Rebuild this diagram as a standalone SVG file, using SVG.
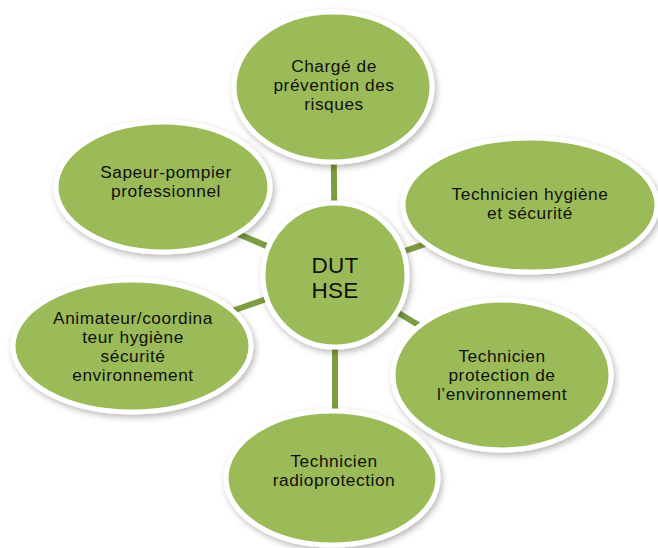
<svg xmlns="http://www.w3.org/2000/svg" width="658" height="548" viewBox="0 0 658 548">
  <defs>
    <filter id="sh" x="-20%" y="-20%" width="140%" height="140%">
      <feDropShadow dx="2" dy="3" stdDeviation="3" flood-color="#000" flood-opacity="0.28"/>
    </filter>
    <style>
      .node { fill: #9bbb59; stroke: #ffffff; stroke-width: 5; filter: url(#sh); }
      .lbl { font-family: "Liberation Sans", Arial, sans-serif; font-size: 17.3px; letter-spacing: 0.55px; fill: #111; text-anchor: middle; }
      .big { font-size: 22.5px; letter-spacing: 0.3px; }
      .conn { stroke: #7e9c41; stroke-width: 6; fill: none; }
    </style>
  </defs>
  <rect width="658" height="548" fill="#ffffff"/>
  <g id="connectors">
    <line class="conn" x1="335" y1="275" x2="333" y2="87"/>
    <line class="conn" x1="335" y1="275" x2="530" y2="208"/>
    <line class="conn" x1="335" y1="275" x2="502" y2="375"/>
    <line class="conn" x1="335" y1="275" x2="335" y2="478"/>
    <line class="conn" x1="335" y1="275" x2="132" y2="346"/>
    <line class="conn" x1="335" y1="275" x2="163" y2="202"/>
  </g>
  <g id="node-charge">
    <ellipse class="node" cx="333" cy="87" rx="99" ry="75"/>
    <text class="lbl" x="334" y="72">Chargé de</text>
    <text class="lbl" x="334" y="91">prévention des</text>
    <text class="lbl" x="334" y="110">risques</text>
  </g>
  <g id="node-hygiene">
    <ellipse class="node" cx="530" cy="205" rx="127" ry="67"/>
    <text class="lbl" x="530" y="199.5">Technicien hygiène</text>
    <text class="lbl" x="530" y="218.5">et sécurité</text>
  </g>
  <g id="node-protection">
    <ellipse class="node" cx="502" cy="375" rx="109" ry="75"/>
    <text class="lbl" x="502" y="362">Technicien</text>
    <text class="lbl" x="502" y="381">protection de</text>
    <text class="lbl" x="502" y="400">l’environnement</text>
  </g>
  <g id="node-radio">
    <ellipse class="node" cx="332" cy="478" rx="106" ry="67"/>
    <text class="lbl" x="334" y="467">Technicien</text>
    <text class="lbl" x="334" y="486">radioprotection</text>
  </g>
  <g id="node-animateur">
    <ellipse class="node" cx="132" cy="346" rx="119" ry="66"/>
    <text class="lbl" x="133" y="323.5">Animateur/coordina</text>
    <text class="lbl" x="133" y="342.5">teur hygiène</text>
    <text class="lbl" x="133" y="361.5">sécurité</text>
    <text class="lbl" x="133" y="380.5">environnement</text>
  </g>
  <g id="node-sapeur">
    <ellipse class="node" cx="163" cy="187" rx="107" ry="65"/>
    <text class="lbl" x="166" y="178">Sapeur-pompier</text>
    <text class="lbl" x="166" y="197">professionnel</text>
  </g>
  <g id="node-center">
    <circle class="node" cx="335" cy="275" r="72"/>
    <text class="lbl big" x="335" y="273">DUT</text>
    <text class="lbl big" x="335" y="298">HSE</text>
  </g>
</svg>
